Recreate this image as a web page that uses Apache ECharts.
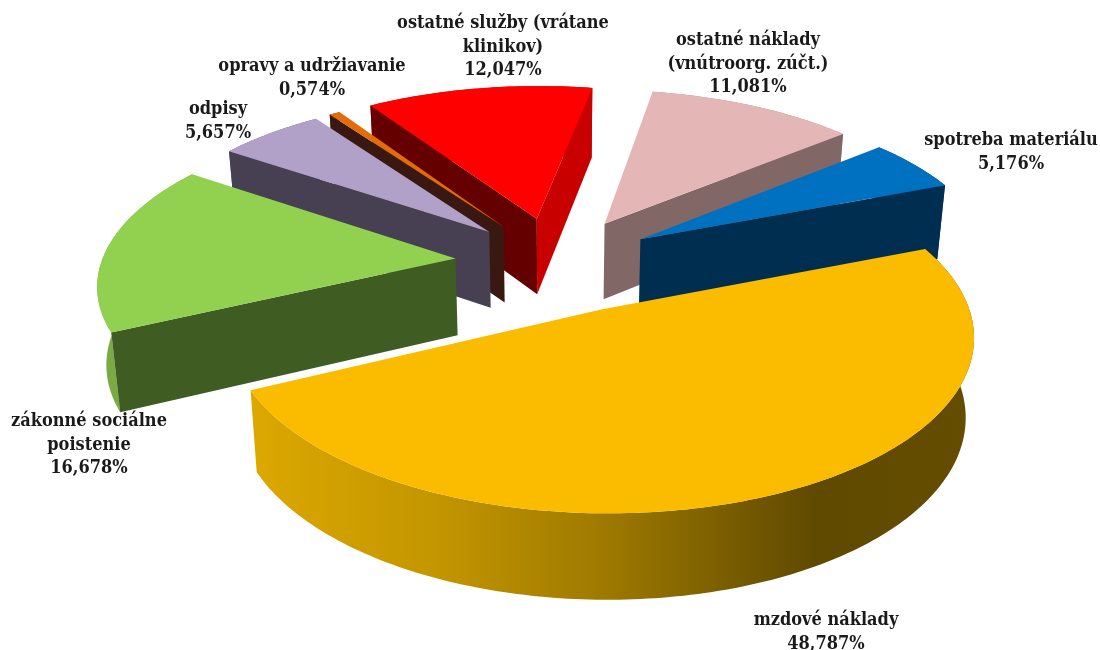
<!DOCTYPE html>
<html><head><meta charset="utf-8">
<style>html,body{margin:0;padding:0;background:#fff}#c{width:1100px;height:650px}</style>
<script src="https://cdn.jsdelivr.net/npm/echarts@6/dist/echarts.min.js"></script></head>
<body><div id="c"></div>
<script>
const names = ['mzdové náklady','zákonné sociálne\npoistenie','odpisy','opravy a udržiavanie','ostatné služby (vrátane\nklinikov)','ostatné náklady\n(vnútroorg. zúčt.)','spotreba materiálu'];
const values = [48.787,16.678,5.657,0.574,12.047,11.081,5.176];
const topColors = ['#fbbc00','#92d050','#b1a0c7','#e36c0a','#ff0000','#e4b7b6','#0070c0'];
const startWall = ['#5f4900','#3f5c23','#473f52','#3a1812','#640000','#826767','#002e50'];
const endWall = ['#5f4900','#3f5c23','#473f52','#3a1812','#c80000','#826767','#002e50'];
const arcWall = ['grad','#7aaa44','#6e6380','#8a4506','#c80000','#a08080','#00467a'];
const paintOrder = [5,4,3,2,6,1,0];
const explode = [109,101,96,96,100,100,100];
const labelAnchors = [[826,620],[89,421],[218,109],[312,66],[503,23],[748,40],[1011,140]];

const startAngle = 68.7, cx = 556, cy = 262, R = 354, k = 0.457, D = 2600, H = 77, shrink = 0.98;
const total = values.reduce((a,b)=>a+b,0);
function project(X,Y,low){
  const s = 1/(1-Y/D);
  let x = cx+X*s, y = cy+k*Y*s;
  if(low){ x = cx+(x-cx)*shrink; y += H*Math.pow(s,0.6); }
  return [x,y];
}
const yellowGrad = new echarts.graphic.LinearGradient(0,0,1,0,[
  {offset:0,color:'#dca800'},{offset:0.25,color:'#c49600'},{offset:0.5,color:'#9c7800'},
  {offset:0.7,color:'#705600'},{offset:0.78,color:'#604a00'},{offset:1,color:'#644d00'}]);
function renderItem(params,api){
  const i = params.dataIndex, val = api.value(0);
  let before = 0; for(let j=0;j<i;j++) before += values[j];
  const a0 = startAngle+before/total*360, a1 = a0+val/total*360, mid = (a0+a1)/2*Math.PI/180;
  const ox = Math.sin(mid)*explode[i], oy = -Math.cos(mid)*explode[i];
  const top=[],low=[];
  const n = Math.max(4,Math.ceil(a1-a0));
  for(let t=0;t<=n;t++){
    const a=(a0+(a1-a0)*t/n)*Math.PI/180, X=ox+R*Math.sin(a), Y=oy-R*Math.cos(a);
    top.push(project(X,Y,false)); low.push(project(X,Y,true));
  }
  const A=project(ox,oy,false), B=project(ox,oy,true);
  const z=paintOrder.indexOf(i)*10;
  const poly=(pts,fill,zz)=>({type:'polygon',shape:{points:pts},style:{fill:fill},z2:z+zz,silent:true});
  const faces=[poly(top.concat(low.slice().reverse()), arcWall[i]==='grad'?yellowGrad:arcWall[i],1)];
  if(-Math.cos((a0-90)*Math.PI/180)>0) faces.push(poly([A,top[0],low[0],B],startWall[i],2));
  if(-Math.cos((a1+90)*Math.PI/180)>0) faces.push(poly([A,top[n],low[n],B],endWall[i],2));
  faces.push(poly([A].concat(top),topColors[i],3));
  return {type:'group',children:faces};
}
const fmt=v=>v.toFixed(3).replace('.',',')+'%';
const labels=names.map((n,i)=>({type:'text',x:labelAnchors[i][0],y:labelAnchors[i][1]-11,z:100,
  style:{text:n+'\n'+fmt(values[i]),fill:'#1a1a1a',font:'bold 18px "DejaVu Serif Condensed","DejaVu Serif",serif',
  lineHeight:23.5,align:'center',verticalAlign:'top'}}));
const chart=echarts.init(document.getElementById('c'),null,{renderer:'canvas'});
chart.setOption({animation:false,backgroundColor:'#fff',
  graphic:labels,
  series:[{type:'custom',coordinateSystem:'none',renderItem:renderItem,data:values.map((v,i)=>({name:names[i],value:[v]})),silent:true}]});
</script></body></html>
